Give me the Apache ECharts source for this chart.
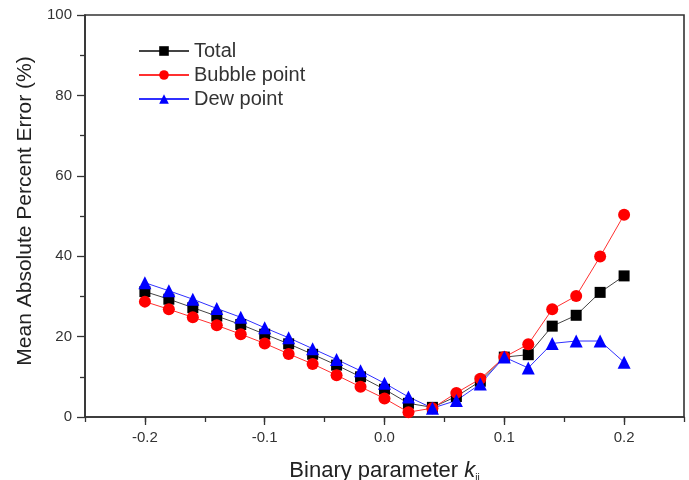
<!DOCTYPE html>
<html>
<head>
<meta charset="utf-8">
<script src="https://cdn.jsdelivr.net/npm/echarts@6/dist/echarts.min.js"></script>
<style>
  html, body { margin: 0; padding: 0; background: #fff; }
  #chart { width: 689px; height: 480px; }
</style>
</head>
<body>
<div id="chart"></div>
<script>
  // binary parameter k_ij
  var kValues = [-0.2, -0.18, -0.16, -0.14, -0.12, -0.1, -0.08, -0.06, -0.04, -0.02, 0.0,
    0.02, 0.04, 0.06, 0.08, 0.1, 0.12, 0.14, 0.16, 0.18, 0.2];
  var totalErr = [31.2, 29.3, 27.2, 25.1, 23.0, 20.6, 18.2, 15.6, 12.9, 10.0, 6.9,
    3.4, 2.4, 5.1, 8.9, 14.9, 15.5, 22.6, 25.3, 31.0, 35.1];
  var bubbleErr = [28.7, 26.8, 24.8, 22.8, 20.6, 18.3, 15.7, 13.2, 10.4, 7.5, 4.6,
    1.2, 2.2, 6.0, 9.5, 14.9, 18.1, 26.8, 30.1, 39.9, 50.3];
  var dewErr = [33.4, 31.4, 29.3, 27.0, 24.8, 22.2, 19.7, 17.0, 14.3, 11.5, 8.4,
    5.0, 2.2, 4.1, 8.2, 14.9, 12.2, 18.3, 18.9, 18.9, 13.6];
  var xTickLabels = [-0.2, -0.1, 0.0, 0.1, 0.2];

  function pairs (ys) {
    return kValues.map(function (k, i) { return [k, ys[i]]; });
  }

  var font = 'Liberation Sans, Arial, sans-serif';
  var myChart = echarts.init(document.getElementById('chart'));

  myChart.setOption({
    animation: false,
    textStyle: { fontFamily: font },
    grid: {
      left: 85,
      right: 5,
      top: 15,
      bottom: 63,
      outerBoundsMode: 'none',
      containLabel: false,
      show: true,
      borderColor: '#333',
      borderWidth: 1.6
    },
    legend: {
      orient: 'vertical',
      left: 133,
      top: 36,
      itemWidth: 50,
      itemHeight: 12,
      itemGap: 4,
      textStyle: { fontSize: 20, color: '#333', fontFamily: font },
      data: ['Total', 'Bubble point', 'Dew point']
    },
    xAxis: [
      {
        type: 'value',
        min: -0.25,
        max: 0.25,
        interval: 0.05,
        name: 'Binary parameter {k|k}{s|ij}',
        nameLocation: 'middle',
        nameGap: 42,
        nameTextStyle: {
          fontSize: 22,
          color: '#222',
          rich: {
            k: { fontSize: 22, fontStyle: 'italic', color: '#222' },
            s: { fontSize: 10, color: '#222', verticalAlign: 'bottom', padding: [14, 0, 0, 0] }
          }
        },
        splitLine: { show: false },
        axisLine: { onZero: false, lineStyle: { color: '#333', width: 1.6 } },
        axisTick: { length: 5, lineStyle: { color: '#333', width: 1.3 } },
        axisLabel: {
          customValues: xTickLabels,
          fontSize: 15,
          color: '#333',
          margin: 13,
          formatter: function (v) { return v.toFixed(1); }
        }
      },
      {
        type: 'value',
        min: -0.25,
        max: 0.25,
        position: 'bottom',
        splitLine: { show: false },
        axisLine: { show: false },
        axisTick: { customValues: xTickLabels, length: 8, lineStyle: { color: '#333', width: 1.3 } },
        axisLabel: { show: false }
      }
    ],
    yAxis: {
      type: 'value',
      min: 0,
      max: 100,
      interval: 20,
      name: 'Mean Absolute Percent Error (%)',
      nameLocation: 'middle',
      nameGap: 45,
      nameTextStyle: { fontSize: 21, color: '#222', padding: [0, 0, 0, 10] },
      splitLine: { show: false },
      axisLine: { onZero: false, lineStyle: { color: '#333', width: 1.6 } },
      axisTick: { length: 8, lineStyle: { color: '#333', width: 1.3 } },
      minorTick: { show: true, splitNumber: 2, length: 5, lineStyle: { color: '#333', width: 1.3 } },
      axisLabel: { fontSize: 15, color: '#333', margin: 13 }
    },
    series: [
      {
        name: 'Total',
        type: 'line',
        data: pairs(totalErr),
        symbol: 'rect',
        symbolSize: 11,
        itemStyle: { color: '#000' },
        lineStyle: { color: '#444', width: 1 }
      },
      {
        name: 'Bubble point',
        type: 'line',
        data: pairs(bubbleErr),
        symbol: 'circle',
        symbolSize: 12,
        itemStyle: { color: '#ff0000' },
        lineStyle: { color: '#ff3030', width: 1 }
      },
      {
        name: 'Dew point',
        type: 'line',
        data: pairs(dewErr),
        symbol: 'triangle',
        symbolSize: 13,
        itemStyle: { color: '#0000ff' },
        lineStyle: { color: '#3030ff', width: 1 }
      }
    ]
  });
</script>
</body>
</html>
